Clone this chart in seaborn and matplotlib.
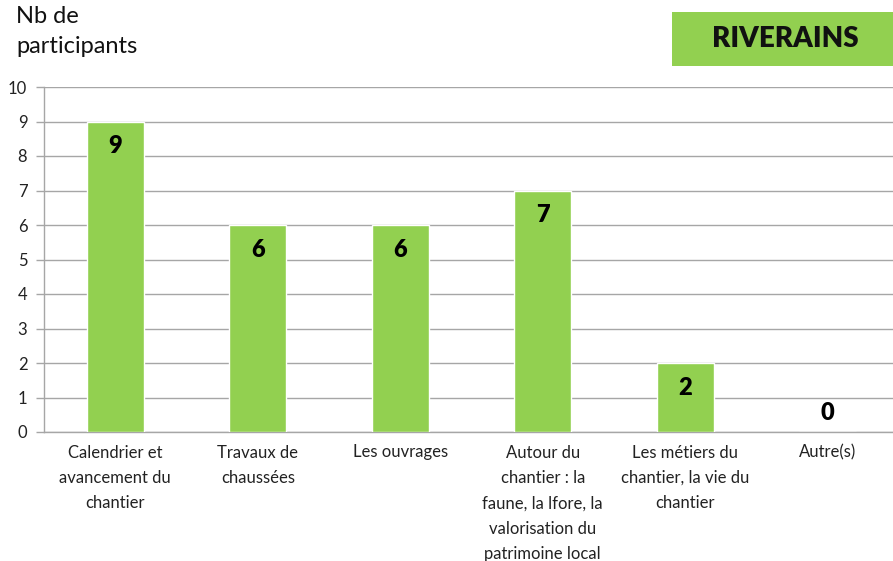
import matplotlib
matplotlib.use("Agg")
import matplotlib.pyplot as plt
import seaborn as sns
import pandas as pd
import numpy as np

categories = [
    "Calendrier et\navancement du\nchantier",
    "Travaux de\nchaussées",
    "Les ouvrages",
    "Autour du\nchantier : la\nfaune, la lfore, la\nvalorisation du\npatrimoine local",
    "Les métiers du\nchantier, la vie du\nchantier",
    "Autre(s)",
]
participants = [9, 6, 6, 7, 2, 0]
y_ticks = list(range(0, 11))

sns.set_theme(style="white")
plt.rcParams["font.family"] = ["Lato", "DejaVu Sans"]

df = pd.DataFrame({"theme": categories, "n": participants})

W, H = 893, 561
fig = plt.figure(figsize=(W / 100, H / 100), dpi=100)
left, right, bottom, top = 44, 899, 432, 87
ax = fig.add_axes([left / W, (H - bottom) / H, (right - left) / W, (bottom - top) / H])

bar_color = "#92D050"
grid_color = "#A6A6A6"

sns.barplot(data=df, x="theme", y="n", color=bar_color, width=0.4,
            saturation=1, ax=ax, zorder=3)

ax.set_ylim(0, 10)
ax.set_xlim(-0.5, len(categories) - 0.5)
ax.set_yticks(y_ticks)
ax.set_yticklabels([str(t) for t in y_ticks], fontsize=12, color="#222222")
ax.yaxis.grid(True, color=grid_color, linewidth=1, zorder=0)
ax.set_axisbelow(True)

# category boundary ticks on the x axis
ax.set_xticks(np.arange(len(categories)))
ax.set_xticklabels(categories, fontsize=12, color="#222222", linespacing=1.72,
                   va="top", ha="center")
ax.set_xticks(np.arange(-0.5, len(categories)), minor=True)
ax.tick_params(axis="x", which="major", length=0, pad=9)
ax.tick_params(axis="x", which="minor", length=6, width=1, color=grid_color, direction="out")
ax.tick_params(axis="y", length=6, width=1, color=grid_color, direction="out", pad=6, left=True)

for side in ["top", "right"]:
    ax.spines[side].set_visible(False)
for side in ["left", "bottom"]:
    ax.spines[side].set_color(grid_color)
    ax.spines[side].set_linewidth(1)

ax.set_xlabel("")
ax.set_ylabel("")

# value labels inside the bar tops (above the axis for zero)
for i, v in enumerate(participants):
    y = v - 0.72 if v > 0 else 0.55
    ax.text(i, y, str(v), ha="center", va="center", fontsize=17,
            fontweight="heavy", color="black", zorder=5)

fig.text(16 / W, 1 - 6 / H, "Nb de\nparticipants", ha="left", va="top",
         fontsize=17, color="#111111", linespacing=1.55)

# title box
fig.patches.append(matplotlib.patches.Rectangle(
    (672 / W, 1 - 66 / H), (893 - 672) / W, (66 - 12) / H,
    transform=fig.transFigure, facecolor=bar_color, edgecolor="none"))
fig.text((672 + 893) / 2 / W + 0.003, 1 - 39 / H, "RIVERAINS", ha="center", va="center",
         fontsize=20, fontweight="heavy", color="#111111")

fig.savefig("out.png", dpi=100)
